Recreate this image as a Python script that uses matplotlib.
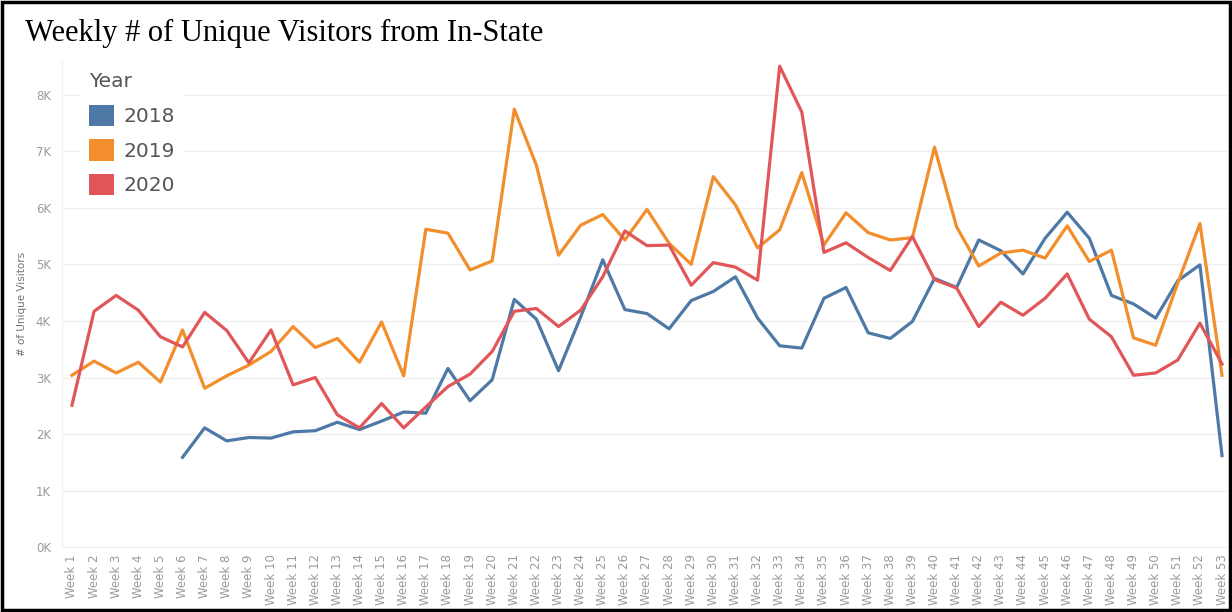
import matplotlib
matplotlib.use("Agg")
import matplotlib.pyplot as plt
from matplotlib.patches import Patch, Rectangle

# weekly unique visitors (thousands)
weeks = list(range(1, 54))
week_labels = [f"Week {w}" for w in weeks]

weeks_2018 = list(range(6, 54))
visitors_2018 = [1.59, 2.11, 1.88, 1.94, 1.93, 2.04, 2.06, 2.21, 2.08, 2.23,
                 2.39, 2.37, 3.16, 2.59, 2.96, 4.38, 4.03, 3.12, 4.07, 5.08,
                 4.20, 4.13, 3.86, 4.36, 4.52, 4.78, 4.05, 3.56, 3.52, 4.40,
                 4.59, 3.79, 3.69, 3.99, 4.75, 4.59, 5.43, 5.24, 4.83, 5.46,
                 5.92, 5.46, 4.45, 4.30, 4.05, 4.71, 4.99, 1.62]
visitors_2019 = [3.04, 3.29, 3.08, 3.27, 2.92, 3.84, 2.81, 3.03, 3.22, 3.46,
                 3.90, 3.53, 3.69, 3.27, 3.98, 3.03, 5.62, 5.55, 4.90, 5.06,
                 7.74, 6.75, 5.16, 5.69, 5.88, 5.43, 5.97, 5.37, 5.00, 6.55,
                 6.05, 5.29, 5.61, 6.62, 5.34, 5.91, 5.56, 5.43, 5.47, 7.07,
                 5.66, 4.97, 5.20, 5.25, 5.11, 5.68, 5.05, 5.25, 3.70, 3.57,
                 4.67, 5.72, 3.04]
visitors_2020 = [2.51, 4.17, 4.45, 4.19, 3.72, 3.54, 4.15, 3.83, 3.26, 3.84,
                 2.87, 3.00, 2.34, 2.11, 2.54, 2.11, 2.48, 2.84, 3.06, 3.46,
                 4.17, 4.22, 3.90, 4.19, 4.78, 5.59, 5.33, 5.34, 4.63, 5.03,
                 4.95, 4.72, 8.50, 7.69, 5.21, 5.38, 5.12, 4.89, 5.49, 4.73,
                 4.58, 3.90, 4.33, 4.10, 4.40, 4.83, 4.03, 3.72, 3.04, 3.08,
                 3.31, 3.96, 3.24]

years = ["2018", "2019", "2020"]
colors = {"2018": "#4e79a7", "2019": "#f28e2b", "2020": "#e15759"}
y_ticks = list(range(0, 9))

fig = plt.figure(figsize=(12.32, 6.12), dpi=100)
ax = fig.add_axes([62 / 1232, 1 - 547.3 / 612, 1166 / 1232, (547.3 - 60) / 612])

ax.plot(weeks_2018, [v * 1000 for v in visitors_2018], color=colors["2018"], lw=2.3)
ax.plot(weeks, [v * 1000 for v in visitors_2019], color=colors["2019"], lw=2.3)
ax.plot(weeks, [v * 1000 for v in visitors_2020], color=colors["2020"], lw=2.3)

ax.set_xlim(0.55, 53.27)
ax.set_ylim(0, 8610)
ax.set_yticks([t * 1000 for t in y_ticks])
ax.set_yticklabels([f"{t}K" for t in y_ticks])
ax.set_xticks(weeks)
ax.set_xticklabels(week_labels, rotation=90)
ax.tick_params(axis="both", length=0, colors="#9a9a9a", labelsize=8.5)
ax.tick_params(axis="x", pad=5)
ax.tick_params(axis="y", pad=8)
ax.grid(axis="y", color="#efefef", lw=1)
ax.set_axisbelow(True)
for side in ["top", "right"]:
    ax.spines[side].set_visible(False)
ax.spines["left"].set_color("#f0f0f0")
ax.spines["bottom"].set_color("#f0f0f0")
ax.set_ylabel("# of Unique Visitors", fontsize=7.5, color="#707070", labelpad=6)

handles = [Patch(facecolor=colors[y], edgecolor="none") for y in years]
leg = ax.legend(handles, years, title="Year", loc="upper left",
                bbox_to_anchor=(0.008, 1.012), frameon=True, fontsize=14.5,
                title_fontsize=14.5, handlelength=1.2, handleheight=1.25,
                handletextpad=0.5, labelspacing=0.66, borderpad=0.4)
leg.get_frame().set_facecolor("white")
leg.get_frame().set_edgecolor("none")
leg.get_frame().set_alpha(1)
leg._legend_box.align = "left"
leg.get_title().set_color("#555555")
for t in leg.get_texts():
    t.set_color("#555555")

fig.text(25 / 1232, 1 - 33 / 612, "Weekly # of Unique Visitors from In-State",
         fontsize=22, family="Liberation Serif", va="center", ha="left")

fig.patches.append(Rectangle((0.002, 0.003), 0.996, 0.994, transform=fig.transFigure,
                             fill=False, edgecolor="black", lw=2.5))

fig.savefig("out.png", dpi=100)
